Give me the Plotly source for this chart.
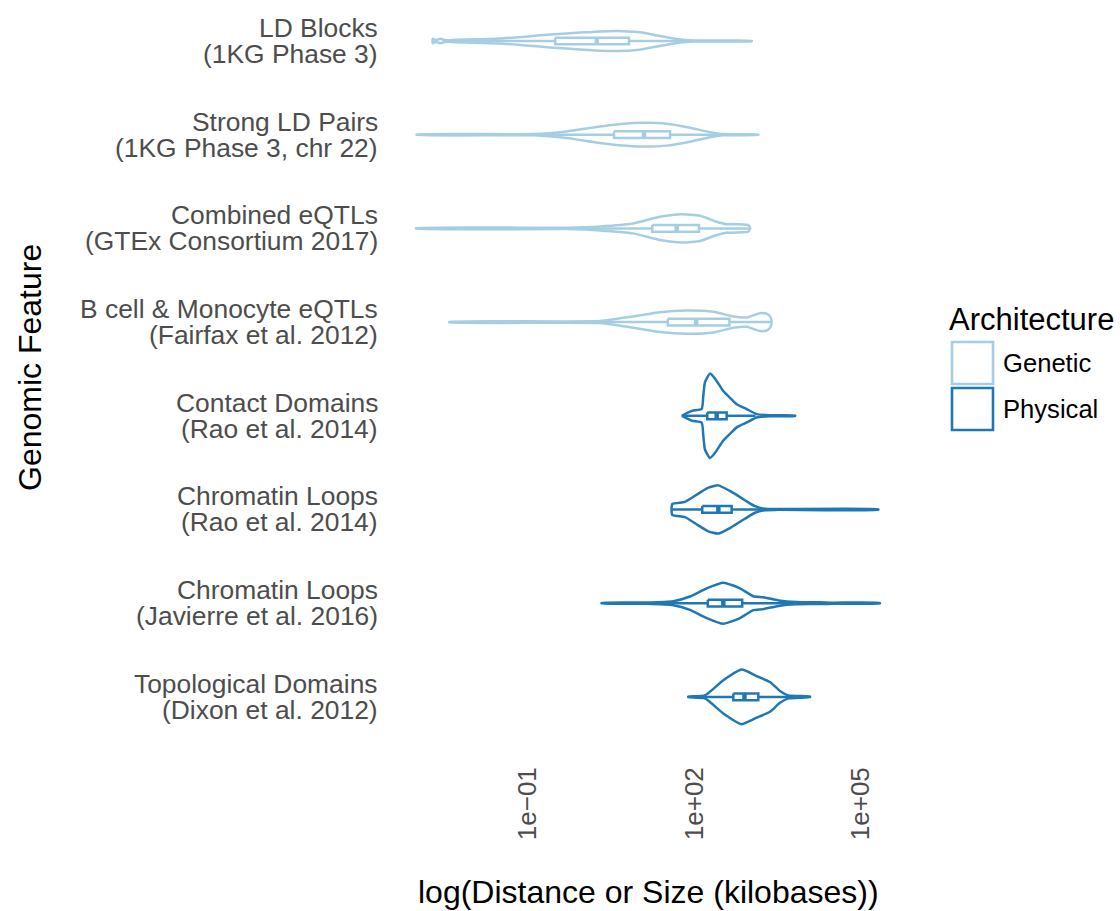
import numpy as np
import plotly.graph_objects as go

# ---- data (distances / sizes in log10 kilobases) ----
features = [
    ("LD Blocks", "(1KG Phase 3)"),
    ("Strong LD Pairs", "(1KG Phase 3, chr 22)"),
    ("Combined eQTLs", "(GTEx Consortium 2017)"),
    ("B cell & Monocyte eQTLs", "(Fairfax et al. 2012)"),
    ("Contact Domains", "(Rao et al. 2014)"),
    ("Chromatin Loops", "(Rao et al. 2014)"),
    ("Chromatin Loops", "(Javierre et al. 2016)"),
    ("Topological Domains", "(Dixon et al. 2012)"),
]
architecture = ["Genetic", "Genetic", "Genetic", "Genetic",
                "Physical", "Physical", "Physical", "Physical"]

# violin density profiles: positions (log10 kb) and relative density (max = 1)
ld_blocks_pos = [-2.717, -2.66, -2.58, -2.49, -2.3, -1.505, -0.604, -0.004, 0.598, 1.018, 1.378, 1.679, 1.979, 3.03]
ld_blocks_den = [0.054, 0.019, 0.054, 0.019, 0.028, 0.059, 0.153, 0.205, 0.240, 0.205, 0.118, 0.047, 0.012, 0.007]

strong_ld_pos = [-3.005, -0.904, -0.303, 0.297, 0.897, 1.138, 1.498, 1.918, 2.279, 2.519, 3.15]
strong_ld_den = [0.007, 0.014, 0.078, 0.195, 0.275, 0.282, 0.259, 0.165, 0.059, 0.014, 0.007]

gtex_pos = [-3.018, -0.303, 0.297, 0.897, 1.378, 1.769, 2.099, 2.399, 2.58, 2.88, 2.96, 3.0]
gtex_den = [0.007, 0.016, 0.047, 0.118, 0.275, 0.336, 0.299, 0.158, 0.101, 0.094, 0.082, 0.024]

fairfax_pos = [-2.418, 0.297, 0.897, 1.378, 1.859, 2.339, 2.699, 2.94, 3.18, 3.30, 3.37, 3.39]
fairfax_den = [0.007, 0.024, 0.134, 0.235, 0.275, 0.247, 0.134, 0.111, 0.212, 0.200, 0.118, 0.012]

contact_pos = [1.787, 1.955, 2.130, 2.159, 2.189, 2.279, 2.369, 2.519, 2.670, 2.760, 2.941, 3.121, 3.36, 3.811]
contact_den = [0.007, 0.118, 0.165, 0.471, 0.800, 1.000, 0.882, 0.588, 0.388, 0.275, 0.158, 0.040, 0.012, 0.007]

rao_loops_pos = [1.600, 1.829, 2.069, 2.249, 2.429, 2.670, 2.910, 3.090, 3.27, 3.5, 5.31]
rao_loops_den = [0.129, 0.181, 0.376, 0.518, 0.572, 0.416, 0.219, 0.078, 0.016, 0.009, 0.007]

javierre_pos = [0.327, 1.138, 1.618, 1.919, 2.22, 2.519, 2.82, 3.06, 3.24, 3.54, 3.84, 4.08, 4.26, 4.50, 4.86, 5.34]
javierre_den = [0.007, 0.016, 0.047, 0.158, 0.353, 0.487, 0.353, 0.165, 0.141, 0.059, 0.028, 0.022, 0.022, 0.012, 0.016, 0.007]

dixon_pos = [1.889, 2.189, 2.519, 2.85, 3.12, 3.36, 3.54, 3.69, 4.08]
dixon_den = [0.007, 0.035, 0.393, 0.647, 0.494, 0.353, 0.141, 0.035, 0.007]

profile_pos = [ld_blocks_pos, strong_ld_pos, gtex_pos, fairfax_pos,
               contact_pos, rao_loops_pos, javierre_pos, dixon_pos]
profile_den = [ld_blocks_den, strong_ld_den, gtex_den, fairfax_den,
               contact_den, rao_loops_den, javierre_den, dixon_den]

# box plot summaries (log10 kb)
box_q1 = [-0.51, 0.55, 1.24, 1.52, 2.23, 2.14, 2.24, 2.70]
box_median = [0.24, 1.09, 1.68, 2.03, 2.40, 2.43, 2.52, 2.90]
box_q3 = [0.82, 1.56, 2.08, 2.63, 2.58, 2.67, 2.86, 3.15]
whisker_lo = [-2.50, -0.97, -0.02, -0.15, 1.79, 1.60, 1.31, 2.03]
whisker_hi = [2.80, 3.08, 3.00, 3.39, 3.10, 3.46, 3.79, 3.82]

x_tick_vals = [0.1, 100, 1e5]
x_tick_text = ["1e\u221201", "1e+02", "1e+05"]

# ---- styling ----
colors = {"Genetic": "#a6cee3", "Physical": "#1f78b4"}
FONT = "Liberation Sans, Arial, Helvetica, sans-serif"
VIOLIN_HALF = 0.45     # half of the 0.9 violin width
BOX_HALF = 0.036
LW = 2.5

W, H = 1120, 911
ML, MR, MT, MB = 393, 217, 0, 158
PW, PH = W - ML - MR, H - MT - MB

fig = go.Figure()

for i, (pos, den) in enumerate(zip(profile_pos, profile_den)):
    c = colors[architecture[i]]
    pos = np.asarray(pos)
    hw = np.asarray(den) * VIOLIN_HALF
    xs = np.concatenate([10 ** pos, 10 ** pos[::-1], [10 ** pos[0]]])
    ys = np.concatenate([i - hw, i + hw[::-1], [i - hw[0]]])
    fig.add_trace(go.Scatter(x=xs, y=ys, mode="lines",
                             line=dict(color=c, width=LW, shape="spline", smoothing=0.5),
                             hoverinfo="skip", showlegend=False))
    # whiskers
    fig.add_trace(go.Scatter(x=[10 ** whisker_lo[i], 10 ** box_q1[i], None,
                                10 ** box_q3[i], 10 ** whisker_hi[i]],
                             y=[i, i, None, i, i], mode="lines",
                             line=dict(color=c, width=LW),
                             hoverinfo="skip", showlegend=False))
    # box
    q1, q3 = 10 ** box_q1[i], 10 ** box_q3[i]
    fig.add_trace(go.Scatter(x=[q1, q3, q3, q1, q1],
                             y=[i - BOX_HALF, i - BOX_HALF, i + BOX_HALF, i + BOX_HALF, i - BOX_HALF],
                             mode="lines", fill="toself", fillcolor="white",
                             line=dict(color=c, width=LW),
                             hoverinfo="skip", showlegend=False))
    # median
    m = 10 ** box_median[i]
    fig.add_trace(go.Scatter(x=[m, m], y=[i - BOX_HALF, i + BOX_HALF], mode="lines",
                             line=dict(color=c, width=4.5),
                             hoverinfo="skip", showlegend=False))


def px_x(px):
    return (px - ML) / PW


def px_y(py):
    return 1 - (py - MT) / PH


annotations = []
for i, (l1, l2) in enumerate(features):
    for txt, shift in ((l1, 13), (l2, -13)):
        annotations.append(dict(text=txt, xref="paper", yref="y", x=px_x(380), y=i,
                                xanchor="right", yanchor="middle", yshift=shift,
                                showarrow=False,
                                font=dict(family=FONT, size=26.4, color="#4d4d4d")))

annotations.append(dict(text="Genomic Feature", xref="paper", yref="paper",
                        x=px_x(30), y=px_y(368), textangle=-90,
                        xanchor="center", yanchor="middle", showarrow=False,
                        font=dict(family=FONT, size=32, color="black")))
annotations.append(dict(text="log(Distance or Size (kilobases))", xref="paper", yref="paper",
                        x=px_x(648), y=px_y(892), xanchor="center", yanchor="middle",
                        showarrow=False, font=dict(family=FONT, size=32, color="black")))

# legend
annotations.append(dict(text="Architecture", xref="paper", yref="paper",
                        x=px_x(947), y=px_y(319), xanchor="left", yanchor="middle",
                        showarrow=False, font=dict(family=FONT, size=31, color="black")))
shapes = []
for k, (name, top) in enumerate((("Genetic", 342), ("Physical", 388))):
    shapes.append(dict(type="rect", xref="paper", yref="paper",
                       x0=px_x(952), x1=px_x(993), y0=px_y(top), y1=px_y(top + 42),
                       line=dict(color=colors[name], width=2.6), fillcolor="white"))
    annotations.append(dict(text=name, xref="paper", yref="paper",
                            x=px_x(1001), y=px_y(top + 21), xanchor="left", yanchor="middle",
                            showarrow=False, font=dict(family=FONT, size=25.6, color="black")))

fig.update_layout(
    width=W, height=H,
    margin=dict(l=ML, r=MR, t=MT, b=MB, pad=0),
    paper_bgcolor="white", plot_bgcolor="white",
    showlegend=False,
    annotations=annotations, shapes=shapes,
    xaxis=dict(type="log", range=[-3.432, 5.757], tickvals=x_tick_vals, ticktext=x_tick_text,
               tickangle=-90, showgrid=False, zeroline=False, showline=False, ticks="",
               ticklabelstandoff=8,
               tickfont=dict(family=FONT, size=26, color="#4d4d4d")),
    yaxis=dict(range=[7.599, -0.4376], showticklabels=False, showgrid=False,
               zeroline=False, showline=False, ticks=""),
)

fig.write_html("out.html")
